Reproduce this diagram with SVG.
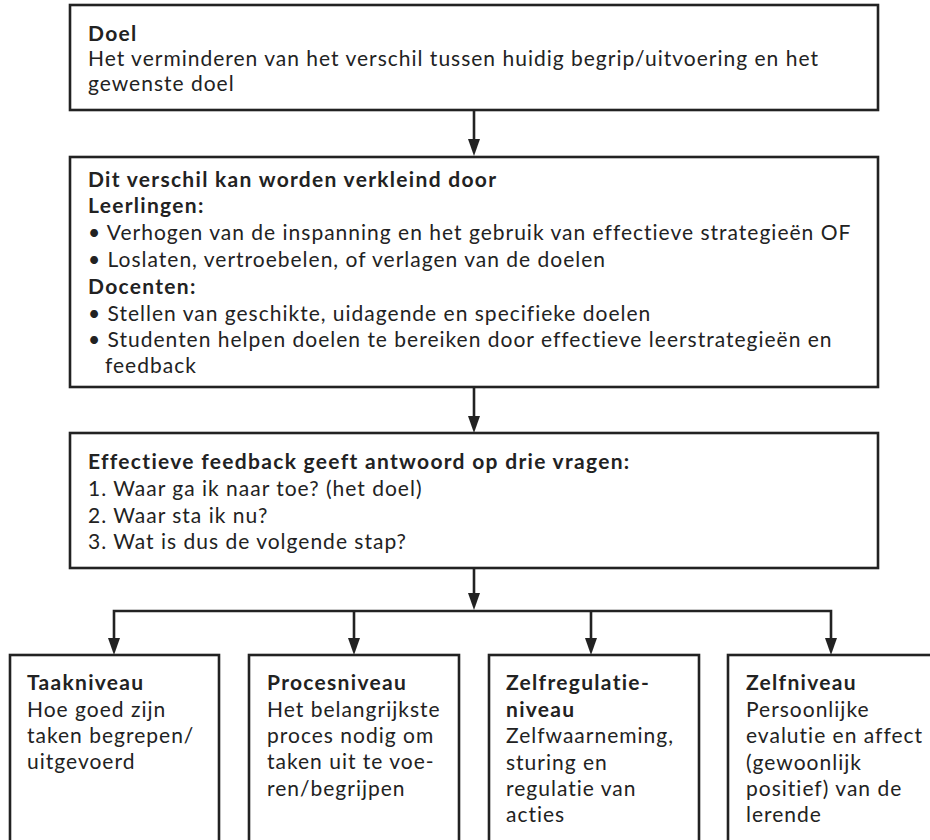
<svg xmlns="http://www.w3.org/2000/svg" width="930" height="840" viewBox="0 0 930 840">
<defs>
<style>
.box{fill:#fff;stroke:#222;stroke-width:2.6}
.t{font-family:Lato,"Noto Sans",sans-serif;font-size:21px;fill:#222;letter-spacing:1px}
.b{font-weight:700;letter-spacing:1.3px}
.c{fill:none;stroke:#222;stroke-width:2.6}
.ah{fill:#222}
</style>
</defs>
<rect width="930" height="840" fill="#fff"/>
<g id="connectors">
<line class="c" x1="474" y1="110" x2="474" y2="139"/>
<path class="ah" d="M468,139 L480,139 L474,156 Z"/>
<line class="c" x1="474" y1="387" x2="474" y2="416"/>
<path class="ah" d="M468,416 L480,416 L474,433 Z"/>
<line class="c" x1="474" y1="568" x2="474" y2="593"/>
<path class="ah" d="M468,593 L480,593 L474,610 Z"/>
<polyline class="c" points="114,638 114,611 831,611 831,638"/>
<line class="c" x1="354" y1="611" x2="354" y2="638"/>
<line class="c" x1="591" y1="611" x2="591" y2="638"/>
<path class="ah" d="M108,638 L120,638 L114,655 Z"/>
<path class="ah" d="M348,638 L360,638 L354,655 Z"/>
<path class="ah" d="M585,638 L597,638 L591,655 Z"/>
<path class="ah" d="M825,638 L837,638 L831,655 Z"/>
</g>
<g id="doel">
<rect class="box" x="70" y="5" width="808" height="105"/>
<text class="t b" x="88" y="41">Doel</text>
<text class="t" x="88" y="66">Het verminderen van het verschil tussen huidig begrip/uitvoering en het</text>
<text class="t" x="88" y="91">gewenste doel</text>
</g>
<g id="verschil">
<rect class="box" x="70" y="157" width="808" height="230"/>
<text class="t b" x="88" y="187">Dit verschil kan worden verkleind door</text>
<text class="t b" x="88" y="213">Leerlingen:</text>
<text class="t" x="88" y="240">• Verhogen van de inspanning en het gebruik van effectieve strategieën OF</text>
<text class="t" x="88" y="267">• Loslaten, vertroebelen, of verlagen van de doelen</text>
<text class="t b" x="88" y="294">Docenten:</text>
<text class="t" x="88" y="321">• Stellen van geschikte, uidagende en specifieke doelen</text>
<text class="t" x="88" y="347">• Studenten helpen doelen te bereiken door effectieve leerstrategieën en</text>
<text class="t" x="105" y="373">feedback</text>
</g>
<g id="feedback">
<rect class="box" x="70" y="433" width="808" height="135"/>
<text class="t b" x="88" y="469">Effectieve feedback geeft antwoord op drie vragen:</text>
<text class="t" x="88" y="496">1. Waar ga ik naar toe? (het doel)</text>
<text class="t" x="88" y="523">2. Waar sta ik nu?</text>
<text class="t" x="88" y="549">3. Wat is dus de volgende stap?</text>
</g>
<g id="taakniveau">
<rect class="box" x="10" y="655" width="209" height="200"/>
<text class="t b" x="27" y="690">Taakniveau</text>
<text class="t" x="27" y="717">Hoe goed zijn</text>
<text class="t" x="27" y="743">taken begrepen/</text>
<text class="t" x="27" y="769">uitgevoerd</text>
</g>
<g id="procesniveau">
<rect class="box" x="249" y="655" width="210" height="200"/>
<text class="t b" x="267" y="690">Procesniveau</text>
<text class="t" x="267" y="717">Het belangrijkste</text>
<text class="t" x="267" y="743">proces nodig om</text>
<text class="t" x="267" y="769">taken uit te voe-</text>
<text class="t" x="267" y="796">ren/begrijpen</text>
</g>
<g id="zelfregulatieniveau">
<rect class="box" x="489" y="655" width="210" height="200"/>
<text class="t b" x="506" y="690">Zelfregulatie-</text>
<text class="t b" x="506" y="717">niveau</text>
<text class="t" x="506" y="743">Zelfwaarneming,</text>
<text class="t" x="506" y="770">sturing en</text>
<text class="t" x="506" y="796">regulatie van</text>
<text class="t" x="506" y="822">acties</text>
</g>
<g id="zelfniveau">
<rect class="box" x="728" y="655" width="220" height="200"/>
<text class="t b" x="746" y="690">Zelfniveau</text>
<text class="t" x="746" y="717">Persoonlijke</text>
<text class="t" x="746" y="743">evalutie en affect</text>
<text class="t" x="746" y="770">(gewoonlijk</text>
<text class="t" x="746" y="796">positief) van de</text>
<text class="t" x="746" y="822">lerende</text>
</g>
</svg>
